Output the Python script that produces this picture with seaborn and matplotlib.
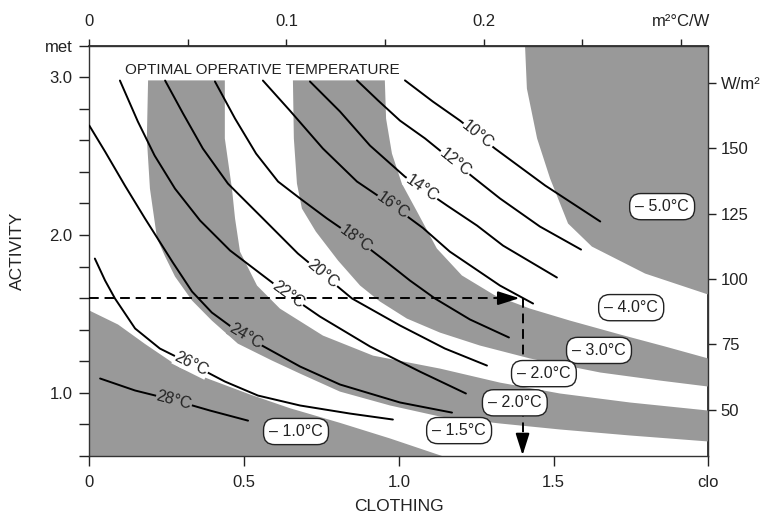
import numpy as np
import matplotlib
matplotlib.use("Agg")
import matplotlib.pyplot as plt
import seaborn as sns

sns.set_theme(style="ticks")
plt.rcParams["font.family"] = ["Liberation Sans", "DejaVu Sans"]

GRAY = "#999999"

# optimal operative temperature lines (clo, met)
T10_CLO = [1.020, 1.110, 1.198, 1.311, 1.473, 1.651]
T10_MET = [2.98, 2.846, 2.725, 2.548, 2.314, 2.086]
T12_CLO = [0.865, 0.933, 1.004, 1.085, 1.165, 1.246, 1.327, 1.456, 1.589]
T12_MET = [2.98, 2.853, 2.725, 2.612, 2.485, 2.358, 2.232, 2.054, 1.908]
T14_CLO = [0.713, 0.810, 0.907, 1.020, 1.156, 1.253, 1.337, 1.511]
T14_MET = [2.973, 2.783, 2.567, 2.370, 2.187, 2.060, 1.933, 1.731]
T16_CLO = [0.561, 0.648, 0.755, 0.865, 0.981, 1.078, 1.165, 1.327, 1.434]
T16_MET = [2.979, 2.789, 2.548, 2.339, 2.185, 2.045, 1.895, 1.680, 1.566]
T18_CLO = [0.406, 0.471, 0.539, 0.610, 0.681, 0.768, 0.862, 0.955, 1.036, 1.117, 1.230, 1.356]
T18_MET = [2.973, 2.738, 2.516, 2.339, 2.232, 2.105, 1.978, 1.838, 1.712, 1.598, 1.465, 1.351]
T20_CLO = [0.245, 0.303, 0.367, 0.448, 0.561, 0.674, 0.849, 1.004, 1.149, 1.285]
T20_MET = [2.979, 2.770, 2.548, 2.326, 2.105, 1.883, 1.598, 1.427, 1.281, 1.173]
T22_CLO = [0.099, 0.157, 0.211, 0.277, 0.358, 0.455, 0.642, 0.745, 0.907, 1.068, 1.217]
T22_MET = [2.979, 2.719, 2.504, 2.294, 2.092, 1.902, 1.623, 1.484, 1.294, 1.135, 0.996]
T24_CLO = [0.0, 0.051, 0.115, 0.180, 0.270, 0.332, 0.396, 0.471, 0.558, 0.681, 0.810, 1.004, 1.172]
T24_MET = [2.694, 2.529, 2.314, 2.105, 1.826, 1.642, 1.509, 1.401, 1.300, 1.167, 1.053, 0.939, 0.875]
T26_CLO = [0.018, 0.051, 0.083, 0.148, 0.228, 0.358, 0.438, 0.545, 0.681, 0.842, 0.981]
T26_MET = [1.851, 1.712, 1.598, 1.408, 1.281, 1.154, 1.072, 0.983, 0.920, 0.869, 0.831]
T28_CLO = [0.035, 0.148, 0.277, 0.390, 0.513]
T28_MET = [1.091, 1.015, 0.952, 0.888, 0.824]

ISO_LINES = [(T10_CLO, T10_MET), (T12_CLO, T12_MET), (T14_CLO, T14_MET),
             (T16_CLO, T16_MET), (T18_CLO, T18_MET), (T20_CLO, T20_MET),
             (T22_CLO, T22_MET), (T24_CLO, T24_MET), (T26_CLO, T26_MET),
             (T28_CLO, T28_MET)]

ISO_TEXT = ["10°C", "12°C", "14°C", "16°C", "18°C", "20°C", "22°C", "24°C", "26°C", "28°C"]
ISO_TEXT_CLO = [1.256, 1.182, 1.075, 0.981, 0.862, 0.755, 0.642, 0.506, 0.33, 0.274]
ISO_TEXT_ON_GRAY = [False, False, False, True, True, False, False, True, False, True]

# band boundaries of the permissible deviation zones
B1_CLO = [0.0, 0.093, 0.180, 0.293, 0.390, 0.519, 0.648, 0.810, 0.972, 1.14]
B1_MET = [1.522, 1.433, 1.310, 1.160, 1.085, 0.990, 0.903, 0.810, 0.711, 0.60]
B2_CLO = [0.190, 0.186, 0.196, 0.219, 0.245, 0.277, 0.332, 0.396, 0.480, 0.590,
          0.681, 0.810, 0.972, 1.133, 1.327, 1.521, 1.747, 2.0]
B2_MET = [2.98, 2.612, 2.294, 1.978, 1.864, 1.737, 1.585, 1.458, 1.312, 1.205,
          1.122, 1.008, 0.920, 0.850, 0.806, 0.768, 0.730, 0.692]
B2R_CLO = [0.438, 0.438, 0.461, 0.471, 0.487, 0.542, 0.616, 0.755, 0.917, 1.133,
           1.327, 1.521, 1.747, 2.0]
B2R_MET = [2.98, 2.612, 2.294, 2.105, 1.895, 1.680, 1.534, 1.363, 1.236, 1.154,
           1.065, 0.996, 0.939, 0.888]
B3_CLO = [0.658, 0.661, 0.671, 0.687, 0.732, 0.804, 0.875, 0.939, 1.026, 1.133,
          1.262, 1.424, 1.651, 1.844, 2.0]
B3_MET = [2.98, 2.612, 2.326, 2.168, 2.022, 1.838, 1.680, 1.579, 1.471, 1.382,
          1.300, 1.218, 1.129, 1.078, 1.040]
B4_CLO = [0.955, 0.959, 0.978, 1.010, 1.059, 1.123, 1.204, 1.311, 1.424, 1.553,
          1.715, 1.860, 2.0]
B4_MET = [2.98, 2.738, 2.516, 2.326, 2.149, 1.915, 1.744, 1.617, 1.534, 1.458,
          1.370, 1.294, 1.218]
B5_CLO = [1.408, 1.414, 1.447, 1.489, 1.547, 1.624, 1.796, 2.0]
B5_MET = [3.2, 2.928, 2.612, 2.358, 2.073, 1.927, 1.756, 1.623]

DT_TEXT = ["\u2013 5.0°C", "\u2013 4.0°C", "\u2013 3.0°C", "\u2013 2.0°C",
           "\u2013 2.0°C", "\u2013 1.5°C", "\u2013 1.0°C"]
DT_CLO = [1.851, 1.751, 1.647, 1.469, 1.375, 1.195, 0.668]
DT_MET = [2.18, 1.54, 1.269, 1.122, 0.937, 0.761, 0.755]

EX_CLO = 1.4
EX_MET = 1.6

X_TICKS = [0, 0.5, 1.0, 1.5, 2.0]
X_LABELS = ["0", "0.5", "1.0", "1.5", "clo"]
Y_TICKS = [0.6, 0.8, 1.0, 1.2, 1.4, 1.6, 1.8, 2.0, 2.2, 2.4, 2.6, 2.8, 3.0, 3.2]
Y_LABELS = ["", "", "1.0", "", "", "", "", "2.0", "", "", "", "", "3.0", "met"]
TOP_TICKS = [0, 0.1, 0.2, 0.3]
TOP_MINOR = [0.05, 0.15, 0.25]
TOP_LABELS = ["0", "0.1", "0.2", "m²°C/W"]
RIGHT_TICKS = [50, 75, 100, 125, 150, 175]
RIGHT_LABELS = ["50", "75", "100", "125", "150", "W/m²"]

fig = plt.figure(figsize=(7.69, 5.19), dpi=100)
ax = fig.add_axes([0.1161, 0.1214, 0.8049, 0.7906])
ax.set_xlim(0, 2.0)
ax.set_ylim(0.6, 3.2)

# shaded zones
ax.fill(B1_CLO + [0.0], B1_MET + [0.6], color=GRAY, lw=0, zorder=1)
ax.fill(B2_CLO + B2R_CLO[::-1], B2_MET + B2R_MET[::-1], color=GRAY, lw=0, zorder=1)
ax.fill(B3_CLO + B4_CLO[::-1], B3_MET + B4_MET[::-1], color=GRAY, lw=0, zorder=1)
ax.fill(B5_CLO + [2.0], B5_MET + [3.2], color=GRAY, lw=0, zorder=1)

for xs, ys in ISO_LINES:
    sns.lineplot(x=xs, y=ys, sort=False, estimator=None, color="black",
                 linewidth=1.4, ax=ax, zorder=3)

# labels sit on their line, rotated along it
for (xs, ys), txt, cx, gray in zip(ISO_LINES, ISO_TEXT, ISO_TEXT_CLO, ISO_TEXT_ON_GRAY):
    cy = np.interp(cx, xs, ys)
    p0 = ax.transData.transform((cx - 0.03, np.interp(cx - 0.03, xs, ys)))
    p1 = ax.transData.transform((cx + 0.03, np.interp(cx + 0.03, xs, ys)))
    rot = np.degrees(np.arctan2(p1[1] - p0[1], p1[0] - p0[0]))
    ax.text(cx, cy, txt, fontsize=11.5, rotation=rot, rotation_mode="anchor",
            ha="center", va="center", color="#222222", zorder=4,
            bbox=dict(boxstyle="square,pad=0.04", fc=GRAY if gray else "white", ec="none"))

ax.text(0.115, 3.045, "OPTIMAL OPERATIVE TEMPERATURE", fontsize=11,
        ha="left", va="center", color="#222222", zorder=4)

for txt, cx, cy in zip(DT_TEXT, DT_CLO, DT_MET):
    ax.text(cx, cy, txt, fontsize=11.5, ha="center", va="center", zorder=6,
            color="#222222",
            bbox=dict(boxstyle="round,pad=0.35,rounding_size=0.7", fc="white",
                      ec="#222222", lw=1.0))

# worked example: 1.6 met, 1.4 clo
dash = (0, (5, 3))
ax.plot([0, EX_CLO - 0.06], [EX_MET, EX_MET], color="black", ls=dash, lw=1.4, zorder=5)
ax.annotate("", xy=(EX_CLO - 0.01, EX_MET), xytext=(EX_CLO - 0.07, EX_MET),
            arrowprops=dict(arrowstyle="-|>,head_length=1.1,head_width=0.35",
                            color="black", lw=1.4, shrinkA=0, shrinkB=0), zorder=5)
ax.plot([EX_CLO, EX_CLO], [EX_MET, 0.72], color="black", ls=dash, lw=1.4, zorder=5)
ax.annotate("", xy=(EX_CLO, 0.605), xytext=(EX_CLO, 0.73),
            arrowprops=dict(arrowstyle="-|>,head_length=1.1,head_width=0.35",
                            color="black", lw=1.4, shrinkA=0, shrinkB=0), zorder=5)

ax.set_xticks(X_TICKS)
ax.set_xticklabels(X_LABELS)
ax.set_yticks(Y_TICKS)
ax.set_yticklabels(Y_LABELS)
ax.tick_params(axis="both", direction="out", length=7, width=1, labelsize=12,
               colors="#222222", top=False, right=False)
ax.tick_params(axis="x", pad=7)
ax.tick_params(axis="y", pad=5)
for sp in ax.spines.values():
    sp.set_color("#333333")
    sp.set_linewidth(1.0)

secx = ax.secondary_xaxis("top", functions=(lambda c: c * 0.157, lambda r: r / 0.157))
secx.set_xticks(TOP_TICKS)
secx.set_xticklabels(TOP_LABELS)
secx.set_xticks(TOP_MINOR, minor=True)
secx.tick_params(which="both", direction="out", length=5, width=1, labelsize=12,
                 pad=7, colors="#222222")

secy = ax.secondary_yaxis("right", functions=(lambda m: 60.3 * m - 3.8,
                                              lambda w: (w + 3.8) / 60.3))
secy.set_yticks(RIGHT_TICKS)
secy.set_yticklabels(RIGHT_LABELS)
secy.tick_params(direction="out", length=6, width=1, labelsize=12, pad=3,
                 colors="#222222")

ax.set_xlabel("CLOTHING", fontsize=12.5, color="#222222")
ax.set_ylabel("ACTIVITY", fontsize=12.5, color="#222222")
ax.xaxis.set_label_coords(0.5, -0.105)
ax.yaxis.set_label_coords(-0.104, 0.5)

fig.savefig("out.png", dpi=100)
